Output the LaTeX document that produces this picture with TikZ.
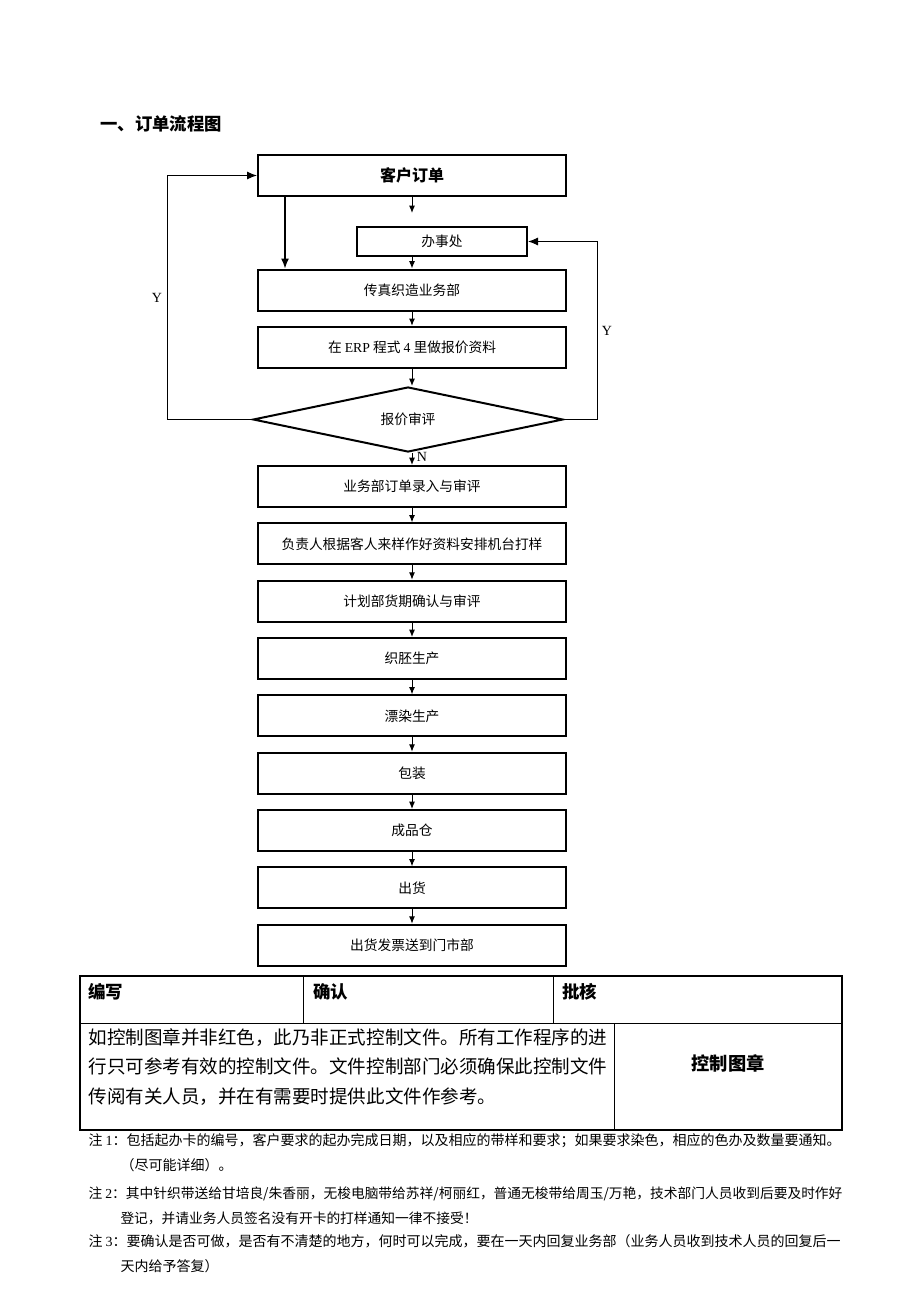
\documentclass[tikz,border=0pt]{standalone}
\usepackage{fontspec}
\setmainfont{Liberation Serif}
\newfontfamily\cjk{Noto Sans CJK SC}
\usetikzlibrary{shapes,arrows.meta,positioning,calc}
\tikzset{
block/.style = {draw, line width=1.5pt, rectangle, minimum width=231pt, minimum height=30.75pt, inner sep=0pt, font=\cjk\fontsize{10.3}{12}\selectfont},
decision/.style = {draw, line width=1.5pt, diamond, aspect=4.8, minimum width=232.5pt, minimum height=48.75pt, inner sep=0pt, font=\cjk\fontsize{10.3}{12}\selectfont},
tmp/.style = {coordinate},
bigarrow/.style = {-{Latex[length=7.5pt,width=6pt]}},
yn/.style = {font=\fontsize{10.5}{12}\selectfont},
cell/.style = {anchor=north west, inner sep=0pt, font=\cjk\bfseries\fontsize{13.1}{15}\selectfont},
note/.style = {anchor=north west, inner sep=0pt, align=left, font=\cjk\fontsize{10.5}{19}\selectfont}
}
\begin{document}
\begin{tikzpicture}[x=0.75pt, y=-0.75pt, >={Latex[length=5.5pt,width=4.5pt]}, line width=0.75pt, node distance=43pt]
  \useasboundingbox (0,0) rectangle (920,1302);
  \node [anchor=west, inner sep=0pt, font=\cjk\bfseries\fontsize{13}{15}\selectfont] (title) at (100,124) {一、订单流程图};

  \node [block, font=\cjk\bfseries\fontsize{12}{14}\selectfont] (order)  at (412,175.5) {客户订单};
  \node [block, minimum width=127.5pt, minimum height=21.75pt] (office) at (442,241.5) {办事处};
  \node [block]                 (fax)     at (412,290)   {传真织造业务部};
  \node [block, below of=fax]   (erp)                    {在 {\rmfamily ERP} 程式 {\rmfamily 4} 里做报价资料};
  \node [decision]              (review)  at (408,419.5) {报价审评};
  \node [block]                 (entry)   at (412,486.5) {业务部订单录入与审评};
  \node [block, below of=entry]  (sample)  {负责人根据客人来样作好资料安排机台打样};
  \node [block, below of=sample] (plan)    {计划部货期确认与审评};
  \node [block, below of=plan]   (weave)   {织胚生产};
  \node [block, below of=weave]  (dye)     {漂染生产};
  \node [block, below of=dye]    (pack)    {包装};
  \node [block, below of=pack]   (store)   {成品仓};
  \node [block, below of=store]  (ship)    {出货};
  \node [block, below of=ship]   (invoice) {出货发票送到门市部};

  \node [tmp] (ordhead) at (412,213) {};
  \coordinate (ordl) at ([xshift=21pt]order.south west);

  \draw [->] (order.south) -- (ordhead);
  \draw [bigarrow, line width=1pt] (ordl) -- (ordl |- fax.north);
  \draw [->] (fax.north |- office.south) -- (fax.north);
  \draw [->] (fax) -- (erp);
  \draw [->] (erp.south) -- (erp.south |- review.north);
  \draw [->] (entry.north |- review.south) -- node [yn, right, pos=0.3] {N} (entry.north);
  \draw [bigarrow] (review.west) -- ++(-85,0) |- (order.west) node [yn, left, pos=0.25] {Y};
  \draw [bigarrow] (review.east) -- ++(33,0) |- (office.east) node [yn, right, pos=0.25] {Y};
  \foreach \a/\b in {entry/sample, sample/plan, plan/weave, weave/dye, dye/pack, pack/store, store/ship, ship/invoice}
    \draw [->] (\a) -- (\b);

  % sign-off table
  \draw [line width=2pt] (80,976) rectangle (842,1130);
  \draw [line width=0.75pt] (80,1023) -- (842,1023) (303,976) -- (303,1023) (553,976) -- (553,1023) (614,1023) -- (614,1130);
  \node [cell] (wrt) at (88,983) {编写};
  \node [cell] (cfm) at (313,983) {确认};
  \node [cell] (apv) at (562,983) {批核};
  \node [anchor=north west, inner sep=0pt, align=left, font=\cjk\fontsize{13.9}{22.1}\selectfont] (notice) at (88,1028)
    {如控制图章并非红色，此乃非正式控制文件。所有工作程序的进\\行只可参考有效的控制文件。文件控制部门必须确保此控制文件\\传阅有关人员，并在有需要时提供此文件作参考。};
  \node [font=\cjk\bfseries\fontsize{13.7}{15}\selectfont] (stamp) at (728,1063) {控制图章};

  % notes
  \node [note] (note1) at (88,1133) {注 {\rmfamily 1}：包括起办卡的编号，客户要求的起办完成日期，以及相应的带样和要求；如果要求染色，相应的色办及数量要通知。\\\hspace*{24pt}（尽可能详细）。};
  \node [note, font=\cjk\fontsize{10.3}{19}\selectfont] (note2) at (88,1186) {注 {\rmfamily 2}：其中针织带送给甘培良/朱香丽，无梭电脑带给苏祥/柯丽红，普通无梭带给周玉/万艳，技术部门人员收到后要及时作好\\\hspace*{24pt}登记，并请业务人员签名没有开卡的打样通知一律不接受！};
  \node [note] (note3) at (88,1234) {注 {\rmfamily 3}：要确认是否可做，是否有不清楚的地方，何时可以完成，要在一天内回复业务部（业务人员收到技术人员的回复后一\\\hspace*{24pt}天内给予答复）};
\end{tikzpicture}
\end{document}
